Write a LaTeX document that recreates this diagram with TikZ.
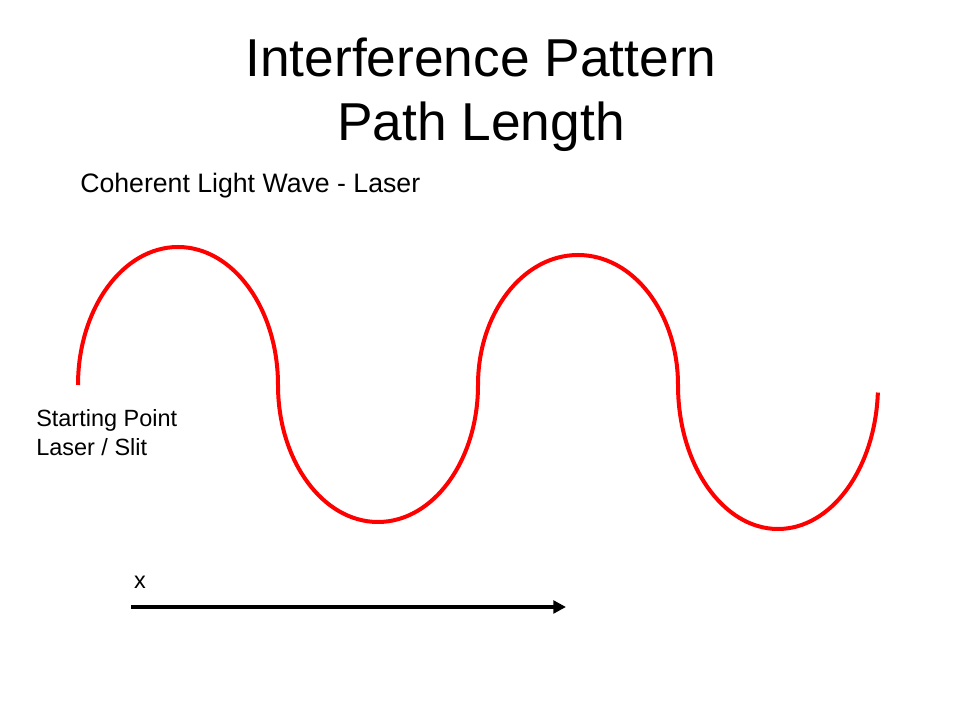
\documentclass[tikz,border=0pt]{standalone}
\usepackage{fontspec}
\setmainfont{Liberation Sans}
\usetikzlibrary{arrows.meta}
\tikzset{
  wave/.style={red, line width=3pt},
  axisarrow/.style={black, line width=3pt, -{Triangle[length=9.5pt,width=9.5pt]}},
  label/.style={inner sep=0pt, font=\fontsize{17.6}{21.75}\selectfont, align=left}
}
\begin{document}
\begin{tikzpicture}[x=0.75pt, y=0.75pt]
    \useasboundingbox (0,0) rectangle (960,720);

    \coordinate (w01) at ( 78,335);
    \coordinate (x01) at (131,113);
    \coordinate (x02) at (566,113);

    \coordinate (l01) at (481,625);
    \coordinate (l02) at ( 80,534);
    \coordinate (l03) at ( 36,287);
    \coordinate (l04) at (140,138);

    % wave made of half ellipses
    \draw[wave] (w01)
        arc[start angle=180, end angle=0,   x radius=100, y radius=138]
        arc[start angle=180, end angle=360, x radius=100, y radius=137]
        arc[start angle=180, end angle=0,   x radius=100, y radius=130]
        arc[start angle=180, end angle=357, x radius=100, y radius=144];

    \draw[axisarrow] (x01) -- (x02);

    \node[inner sep=0pt, align=center, font=\fontsize{40}{48}\selectfont] (title) at (l01) {Interference Pattern\\Path Length};
    \node[inner sep=0pt, anchor=west, font=\fontsize{20}{24}\selectfont] (light) at (l02) {Coherent Light Wave - Laser};
    \node[label, anchor=west] (start) at (l03) {Starting Point\\Laser / Slit};
    \node[label] (xlab) at (l04) {x};

\end{tikzpicture}
\end{document}
